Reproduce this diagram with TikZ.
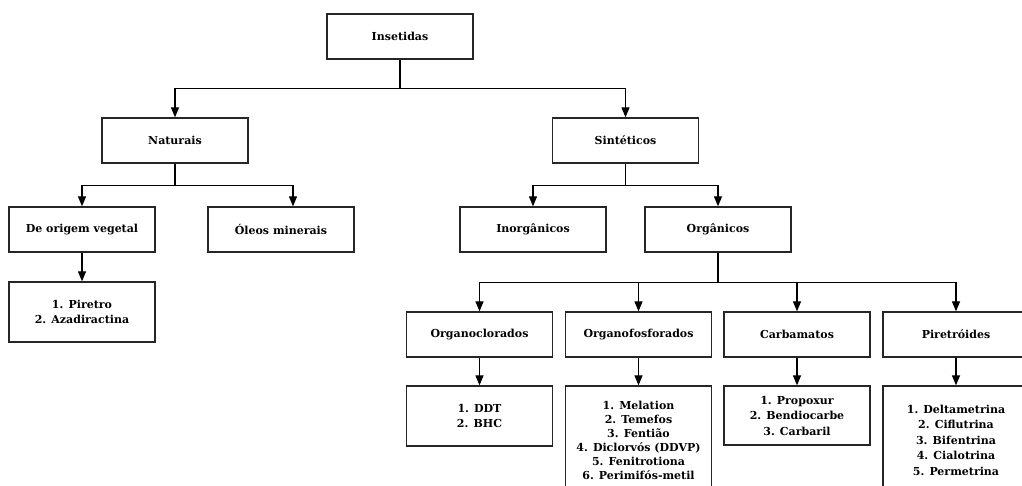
\documentclass[tikz,border=0pt]{standalone}
\usepackage{fontspec}
\setmainfont{DejaVu Serif}
\usepackage{tikz}
\usetikzlibrary{arrows.meta,calc}
\tikzstyle{arrow} = [line width=1.2pt,->,>={Triangle[length=10pt,width=8pt]}]

\begin{document}
\begin{tikzpicture}
[x=1pt,y=-1pt, headbox/.style={rectangle,draw=black!85,line width=1.3pt,minimum width=146pt,minimum height=45pt,inner sep=0pt,font=\fontsize{11}{15}\selectfont\bfseries},
listbox/.style={rectangle,draw=black!85,line width=1.3pt,minimum width=146pt,minimum height=60pt,inner sep=0pt,align=center,font=\fontsize{11}{15.5}\selectfont\bfseries},]
\useasboundingbox (0,0) rectangle (1022,486);
\node[headbox] (insetidas) at (400,36.5) {Insetidas};
\node[headbox] (naturais) at (175,140.5) {Naturais};
\node[headbox] (sinteticos) at (625.5,140.5) {Sintéticos};
\node[headbox] (vegetal) at (82,229.5) {De origem vegetal};
\node[headbox] (oleos) at (281,229.5) {Óleos minerais};
\node[headbox] (inorganicos) at (533,229.5) {Inorgânicos};
\node[headbox] (organicos) at (718,229.5) {Orgânicos};
\node[listbox] (vegetallist) at (82,312) {1. Piretro\\2. Azadiractina};

\node[headbox] (cloro) at (479.5,334.5) {Organoclorados};
\node[headbox] (fosfo) at (638.5,334.5) {Organofosforados};
\node[headbox] (carba) at (797,334.5) {Carbamatos};
\node[headbox] (piret) at (956,334.5) {Piretróides};
\node[listbox] (clorolist) at (479.5,416) {1. DDT\\2. BHC};
\node[listbox,minimum height=108pt,font=\fontsize{11}{14}\selectfont\bfseries] (fosfolist) at (638.5,440) {1. Melation\\2. Temefos\\3. Fentião\\4. Diclorvós (DDVP)\\5. Fenitrotiona\\6. Perimifós-metil};
\node[listbox,minimum height=59pt] (carbalist) at (797,415.5) {1. Propoxur\\2. Bendiocarbe\\3. Carbaril};
\node[listbox,minimum height=108pt] (piretlist) at (956,440) {1. Deltametrina\\2. Ciflutrina\\3. Bifentrina\\4. Cialotrina\\5. Permetrina};

\draw[arrow] (insetidas.south) -- ++(0,29) -| (naturais.north);
\draw[arrow] (insetidas.south) -- ++(0,29) -| (sinteticos.north);
\draw[arrow] (naturais.south) -- ++(0,22) -| (vegetal.north);
\draw[arrow] (naturais.south) -- ++(0,22) -| ([xshift=12pt]oleos.north);
\draw[arrow] (sinteticos.south) -- ++(0,22) -| (inorganicos.north);
\draw[arrow] (sinteticos.south) -- ++(0,22) -| (organicos.north);
\draw[arrow] (vegetal.south) -- (vegetallist.north);
\draw[arrow] (organicos.south) -- ++(0,30) -| (cloro.north);
\draw[arrow] (organicos.south) -- ++(0,30) -| (fosfo.north);
\draw[arrow] (organicos.south) -- ++(0,30) -| (carba.north);
\draw[arrow] (organicos.south) -- ++(0,30) -| (piret.north);
\draw[arrow] (cloro.south) -- (clorolist.north);
\draw[arrow] (fosfo.south) -- (fosfolist.north);
\draw[arrow] (carba.south) -- (carbalist.north);
\draw[arrow] (piret.south) -- (piretlist.north);
\end{tikzpicture}
\end{document}
